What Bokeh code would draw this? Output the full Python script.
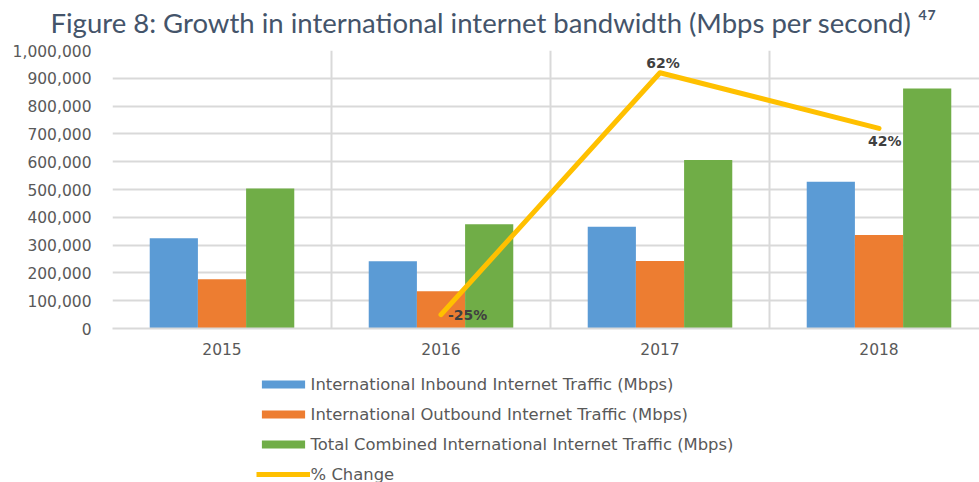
from bokeh.plotting import figure
from bokeh.layouts import column
from bokeh.models import (Range1d, FixedTicker, NumeralTickFormatter, Legend, LegendItem, Title)
from bokeh.core.properties import value
from bokeh.embed import file_html
from bokeh.resources import INLINE
import numpy as np

# ---- data ----
years = ["2015", "2016", "2017", "2018"]
inbound = [325000, 242000, 366000, 528000]
outbound = [177000, 134000, 243000, 336000]
total = [504000, 375000, 606000, 863000]
pct_years = ["2016", "2017", "2018"]
pct_change = [-25, 62, 42]
y_ticks = [0, 100000, 200000, 300000, 400000, 500000, 600000, 700000, 800000, 900000, 1000000]
series_names = ["International Inbound Internet Traffic (Mbps)",
                "International Outbound Internet Traffic (Mbps)",
                "Total Combined International Internet Traffic (Mbps)",
                "% Change"]
title_text = "Figure 8: Growth in international internet bandwidth (Mbps per second) \u2074\u2077"

W = 979
H0, H1, H2 = 43, 319, 120       # title strip, chart, legend strip
BL = 112
BT = 7
BB = 34
cat_px = 219.0
x_end = (W - BL) / cat_px

colors = ["#5B9BD5", "#ED7D31", "#70AD47"]
line_color = "#FFC000"

# ---- title strip ----
t = figure(width=W, height=H0, output_backend="svg", toolbar_location=None,
           x_axis_type=None, y_axis_type=None, x_range=Range1d(0, 1), y_range=Range1d(0, 1),
           min_border_left=BL, min_border_right=0, min_border_top=0, min_border_bottom=0,
           outline_line_color=None, background_fill_color="white", border_fill_color="white")
t.xgrid.visible = False
t.ygrid.visible = False
t.add_layout(Title(text=title_text, align="left", offset=-62, standoff=9,
                   text_font="Lato", text_font_size="27.5px", text_font_style="normal",
                   text_color="#44546A"), "above")

# ---- chart ----
p = figure(width=W, height=H1, output_backend="svg", toolbar_location=None,
           x_range=Range1d(0, x_end), y_range=Range1d(0, 1000000),
           min_border_left=BL, min_border_top=BT, min_border_bottom=BB, min_border_right=0,
           outline_line_color=None, background_fill_color="white", border_fill_color="white")
p.extra_y_ranges = {"pct": Range1d(-30, 70)}

centers = np.arange(len(years)) + 0.5
bw = 0.22
for k, (vals, c) in enumerate(zip([inbound, outbound, total], colors)):
    p.vbar(x=centers + (k - 1) * bw, top=vals, width=bw, fill_color=c, line_color=None)

px = np.array([years.index(y) + 0.5 for y in pct_years])
p.line(x=px, y=pct_change, y_range_name="pct", line_color=line_color, line_width=5,
       line_join="round", line_cap="round")

lab_font = value("DejaVu Sans")
def pct_label(i, align, baseline, xo, yo):
    p.text(x=[px[i]], y=[pct_change[i]], text=[f"{pct_change[i]}%"], y_range_name="pct",
           text_font=lab_font, text_font_size="14px", text_font_style="bold",
           text_color="#404040", text_align=align, text_baseline=baseline,
           x_offset=xo, y_offset=yo)
pct_label(0, "left", "middle", 7, 0)
pct_label(1, "center", "bottom", 3, -2)
pct_label(2, "left", "top", -11, 5)

p.xaxis.ticker = FixedTicker(ticks=list(centers))
p.xaxis.major_label_overrides = {float(c): y for c, y in zip(centers, years)}
p.xaxis.axis_line_color = "#D9D9D9"
p.xaxis.axis_line_width = 2
p.xaxis.major_tick_line_color = None
p.xaxis.minor_tick_line_color = None
p.xaxis.major_label_standoff = 8
p.xaxis.major_label_text_font = "DejaVu Sans"
p.xaxis.major_label_text_font_size = "15.5px"
p.xaxis.major_label_text_color = "#595959"

p.yaxis.ticker = FixedTicker(ticks=y_ticks)
p.yaxis.formatter = NumeralTickFormatter(format="0,0")
p.yaxis.axis_line_color = None
p.yaxis.major_tick_line_color = None
p.yaxis.minor_tick_line_color = None
p.yaxis.major_label_standoff = 15
p.yaxis.major_label_text_font = "DejaVu Sans"
p.yaxis.major_label_text_font_size = "15.5px"
p.yaxis.major_label_text_color = "#595959"

p.ygrid.grid_line_color = "#D9D9D9"
p.ygrid.grid_line_width = 2
p.xgrid.ticker = FixedTicker(ticks=list(range(len(years) + 1)))
p.xgrid.grid_line_color = "#D9D9D9"
p.xgrid.grid_line_width = 2

# ---- legend strip (key glyphs kept outside the visible range) ----
q = figure(width=W, height=H2, output_backend="svg", toolbar_location=None,
           x_axis_type=None, y_axis_type=None, x_range=Range1d(0, 1),
           y_range=Range1d(2e6, 3e6),
           min_border_left=BL, min_border_right=0, min_border_top=0, min_border_bottom=0,
           outline_line_color=None, background_fill_color="white", border_fill_color="white")
q.xgrid.visible = False
q.ygrid.visible = False
keys = [q.vbar(x=centers, top=vals, width=bw, fill_color=c, line_color=None)
        for vals, c in zip([inbound, outbound, total], colors)]
keys.append(q.line(x=px, y=pct_change, line_color=line_color, line_width=5))
legend = Legend(items=[LegendItem(label=n, renderers=[r]) for n, r in zip(series_names, keys)],
                location=(143.6, -2), orientation="vertical",
                glyph_width=54, glyph_height=10, label_height=20, spacing=10, padding=0,
                label_standoff=1, border_line_color=None, background_fill_alpha=0,
                label_text_font="DejaVu Sans", label_text_font_size="16.4px",
                label_text_color="#595959", margin=0)
q.add_layout(legend, "center")

layout = column(t, p, q, spacing=0)
open("out.html", "w").write(file_html(layout, INLINE))
